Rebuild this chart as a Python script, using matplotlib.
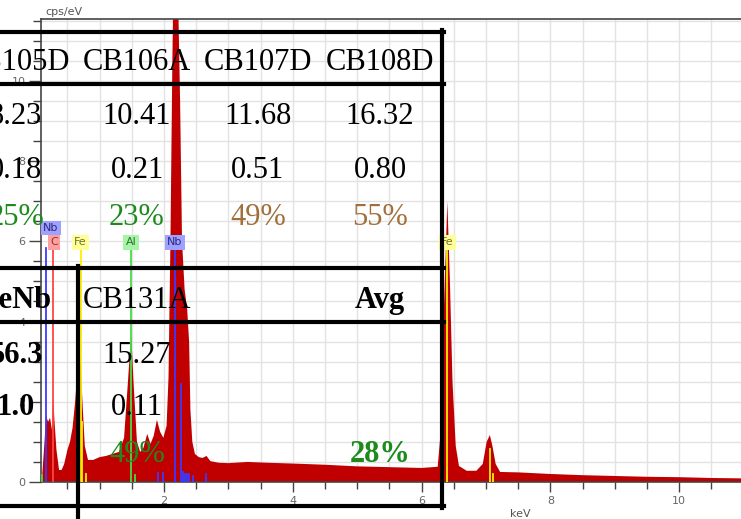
import matplotlib
matplotlib.use("Agg")
import matplotlib.pyplot as plt
from matplotlib.lines import Line2D
from matplotlib.ticker import MultipleLocator

# EDS spectrum (keV, cps/eV)
energy_kev = [0.09, 0.11, 0.14, 0.17, 0.20, 0.23, 0.26, 0.28, 0.30, 0.33,
              0.37, 0.41, 0.45, 0.50, 0.54, 0.58, 0.62, 0.66, 0.70, 0.74,
              0.77, 0.82, 0.90, 1.00, 1.10, 1.20, 1.30, 1.38, 1.44, 1.49,
              1.53, 1.58, 1.63, 1.68, 1.74, 1.79, 1.84, 1.89, 1.94, 1.99,
              2.04, 2.07, 2.10, 2.13, 2.16, 2.19, 2.22, 2.25, 2.28, 2.32,
              2.36, 2.39, 2.41, 2.44, 2.48, 2.54, 2.60, 2.66, 2.72, 2.85,
              3.0, 3.3, 3.6, 4.0, 4.5, 5.0, 5.5, 6.0, 6.25, 6.31,
              6.35, 6.40, 6.44, 6.48, 6.53, 6.58, 6.70, 6.85, 6.95, 7.01,
              7.06, 7.10, 7.15, 7.22, 7.5, 8.0, 8.5, 9.0, 9.5, 10.0,
              10.5, 11.0]
cps = [0.0, 0.2, 0.9, 1.65, 1.5, 1.6, 1.3, 2.1, 1.5, 0.8,
       0.3, 0.3, 0.45, 0.8, 1.0, 1.35, 2.0, 2.9, 3.1, 1.8,
       0.9, 0.55, 0.55, 0.62, 0.65, 0.7, 0.75, 1.1, 2.5, 3.7,
       2.4, 1.0, 0.75, 0.85, 1.2, 0.95, 1.15, 1.55, 1.25, 1.1,
       1.4, 2.6, 6.0, 10.5, 14.0, 13.5, 12.0, 9.5, 6.0, 4.8,
       4.3, 3.5, 1.8, 1.0, 0.7, 0.62, 0.6, 0.65, 0.52, 0.48,
       0.47, 0.5, 0.48, 0.46, 0.43, 0.39, 0.37, 0.35, 0.38, 1.5,
       4.5, 7.0, 5.0, 2.5, 0.9, 0.4, 0.28, 0.28, 0.45, 1.0,
       1.17, 0.9, 0.45, 0.25, 0.24, 0.2, 0.17, 0.15, 0.13, 0.12,
       0.1, 0.09]

# element markers
elem_names = ["Nb", "C", "Fe", "Al", "Nb", "Fe"]
elem_kev = [0.17, 0.277, 0.705, 1.486, 2.166, 6.40]
elem_label_kev = [0.245, 0.29, 0.705, 1.486, 2.166, 6.40]
elem_label_cps = [6.33, 5.98, 5.98, 5.98, 5.98, 5.98]
elem_line_top = 5.83
elem_line_col = {"Nb": "#3a3aff", "C": "#ff4444", "Fe": "#ffee00", "Al": "#44dd44"}
elem_box_col = {"Nb": "#a0a0ff", "C": "#ffa0a0", "Fe": "#ffff99", "Al": "#a6f5a6"}
elem_txt_col = {"Nb": "#2a2a80", "C": "#903030", "Fe": "#707030", "Al": "#2e6e2e"}

# short minor-line markers at the baseline
minor_elem = ["Nb", "Nb", "Nb", "Nb", "Nb", "Nb", "Nb", "Nb", "Nb",
              "Al", "Al", "Fe", "Fe", "Fe", "Fe"]
minor_kev = [1.90, 1.99, 2.257, 2.30, 2.33, 2.36, 2.39, 2.45, 2.65,
             0.10, 1.557, 0.726, 0.79, 7.058, 7.11]
minor_cps = [0.22, 0.22, 2.45, 0.25, 0.2, 0.2, 0.2, 0.15, 0.2,
             0.18, 0.18, 1.5, 0.2, 0.82, 0.2]

# overlaid table
top_header = ["CB105D", "CB106A", "CB107D", "CB108D"]
top_row2 = ["8.23", "10.41", "11.68", "16.32"]
top_row3 = ["0.18", "0.21", "0.51", "0.80"]
top_row4 = ["25%", "23%", "49%", "55%"]
bot_header = ["FeNb", "CB131A", "", "Avg"]
bot_row2 = ["56.3", "15.27", "", ""]
bot_row3 = ["1.0", "0.11", "", ""]
bot_row4 = ["", "49%", "", "28%"]

W, H = 741, 519
fig = plt.figure(figsize=(W / 100, H / 100), dpi=100)
fig.patch.set_facecolor("white")


def fx(x):
    return x / W


def fy(y):
    return 1 - y / H


ax = fig.add_axes([fx(41), fy(482), fx(741) - fx(41), fy(19) - fy(482)])
ax.set_xlim(0.09, 10.96)
ax.set_ylim(0, 11.54)

ax.fill_between(energy_kev, cps, 0, color="#c00000", linewidth=0, zorder=2)

ax.xaxis.set_major_locator(MultipleLocator(2))
ax.xaxis.set_minor_locator(MultipleLocator(0.5))
ax.yaxis.set_major_locator(MultipleLocator(2))
ax.yaxis.set_minor_locator(MultipleLocator(0.5))
ax.grid(True, which="both", color="#e2e2e2", linewidth=1.0, zorder=0)
ax.set_axisbelow(True)

for s in ["top", "left", "bottom"]:
    ax.spines[s].set_color("#444444")
    ax.spines[s].set_linewidth(1.2)
ax.spines["right"].set_visible(False)

ax.tick_params(axis="y", which="major", length=8.5, width=1, color="#444444",
               labelsize=8, labelcolor="#666666", pad=2.5)
ax.tick_params(axis="y", which="minor", length=5.5, width=1, color="#444444")
ax.tick_params(axis="x", which="major", length=7, width=1, color="#444444",
               labelsize=8, labelcolor="#666666", pad=3)
ax.tick_params(axis="x", which="minor", length=5, width=1, color="#444444")
ax.set_xticks([2, 4, 6, 8, 10])
ax.set_yticks([0, 2, 4, 6, 8, 10])
ax.set_xticklabels(["2", "4", "6", "8", "10"])
ax.set_yticklabels(["0", "2", "4", "6", "8", "10"])

fig.text(fx(45), fy(12), "cps/eV", fontsize=8, color="#555555", va="center")
fig.text(fx(520), fy(514), "keV", fontsize=8, color="#555555",
         ha="center", va="center")

# element marker lines and labels
for name, e in zip(elem_names, elem_kev):
    ax.plot([e, e], [0, elem_line_top], color=elem_line_col[name], lw=1.3, zorder=3)
for name, e, h in zip(minor_elem, minor_kev, minor_cps):
    ax.plot([e, e], [0, h], color=elem_line_col[name], lw=1.3, zorder=3)
for name, lx, ly in zip(elem_names, elem_label_kev, elem_label_cps):
    ax.text(lx, ly, name, fontsize=8, color=elem_txt_col[name], ha="center",
            va="center", zorder=4,
            bbox=dict(boxstyle="square,pad=0.22", fc=elem_box_col[name], ec="none"))

# table lines (figure pixel coordinates)
for y in [32, 84, 268, 322, 506]:
    fig.add_artist(Line2D([fx(0), fx(444)], [fy(y), fy(y)], color="black", lw=3.0))
fig.add_artist(Line2D([fx(442), fx(442)], [fy(30), fy(508)], color="black", lw=3.0))
fig.add_artist(Line2D([fx(78), fx(78)], [fy(266), fy(519)], color="black", lw=3.0))

col_x = [16, 137, 258, 380]
green = "#1e8a1e"
brown = "#a26e3a"
serif = ["Liberation Serif", "DejaVu Serif"]
rows = [
    (top_header, 70, ["normal"] * 4, ["black"] * 4),
    (top_row2, 124, ["normal"] * 4, ["black"] * 4),
    (top_row3, 178, ["normal"] * 4, ["black"] * 4),
    (top_row4, 225, ["normal"] * 4, [green, green, brown, brown]),
    (bot_header, 308, ["bold", "normal", "normal", "bold"], ["black"] * 4),
    (bot_row2, 363, ["bold", "normal", "normal", "normal"], ["black"] * 4),
    (bot_row3, 415, ["bold", "normal", "normal", "normal"], ["black"] * 4),
    (bot_row4, 462, ["normal", "normal", "normal", "bold"], [green] * 4),
]
for labels, base, weights, colors in rows:
    for lab, cx, w, c in zip(labels, col_x, weights, colors):
        if lab:
            fig.text(fx(cx), fy(base), lab, fontsize=22, family=serif,
                     fontweight=w, color=c, ha="center", va="baseline")

fig.savefig("out.png", dpi=100)
